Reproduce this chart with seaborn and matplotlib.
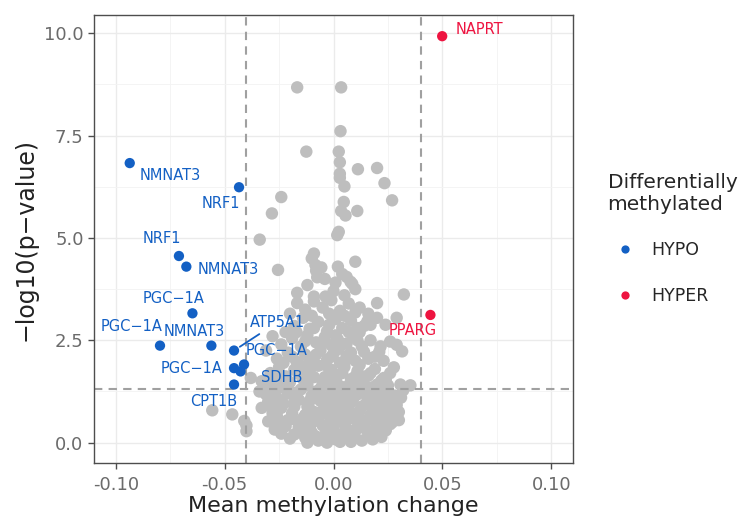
import numpy as np
import pandas as pd
import matplotlib.pyplot as plt
import seaborn as sns

# differentially methylated genes (labelled)
genes = ['NMNAT3', 'NRF1', 'NRF1', 'NMNAT3', 'PGC−1A', 'PGC−1A', 'NMNAT3', 'ATP5A1',
         'PGC−1A', 'PGC−1A', 'SDHB', 'CPT1B', 'NAPRT', 'PPARG']
gene_change = [-0.0936, -0.0434, -0.0710, -0.0676, -0.0648, -0.0797, -0.0561, -0.0457,
               -0.0457, -0.0411, -0.0427, -0.0457, 0.0499, 0.0445]
gene_logp = [6.83, 6.24, 4.56, 4.30, 3.16, 2.37, 2.37, 2.25,
             1.82, 1.91, 1.74, 1.42, 9.93, 3.12]
gene_status = ['HYPO'] * 12 + ['HYPER'] * 2

# not significant CpGs
ns_change = [
    -0.0167, 0.0035, 0.0032, -0.0125, 0.0024, 0.0029, 0.0112, 0.0200, 0.0029, 0.0029,
    0.0050, 0.0234, -0.0240, 0.0047, 0.0269, -0.0283, 0.0035, 0.0109, 0.0055, 0.0024,
    0.0017, -0.0339, -0.0090, 0.0100, -0.0083, -0.0056, -0.0255, 0.0040, -0.0075, 0.0009,
    0.0078, 0.0086, -0.0167, -0.0090, -0.0037, 0.0323, 0.0200, -0.0167, 0.0290, 0.0155,
    0.0110, 0.0239, 0.0260, 0.0216, 0.0290, 0.0315, 0.0162, 0.0277, 0.0160, 0.0231,
    0.0307, 0.0353, 0.0170, 0.0237, 0.0260, 0.0200, -0.0380, -0.0410, -0.0400, -0.0290,
    -0.0266, -0.0557, -0.0465, -0.0400,
    -0.010, -0.008, -0.004, 0.002, 0.006, 0.010, -0.012, 0.000, 0.005,
    -0.013, -0.009, -0.005, -0.001, 0.003, 0.007, 0.012, -0.020, 0.016,
    -0.018, -0.014, -0.011, -0.007, -0.003, 0.001, 0.004, 0.008, 0.012, 0.017, -0.022, 0.020,
    -0.024, -0.019, -0.015, -0.012, -0.008, -0.004, -0.001, 0.002, 0.006, 0.009, 0.013, 0.017, -0.028,
    -0.026, -0.021, -0.017, -0.013, -0.010, -0.006, -0.003, 0.000, 0.003, 0.006, 0.010, 0.014,
    0.019, 0.023, -0.031,
    -0.029, -0.025, -0.022, -0.018, -0.014, -0.011, -0.007, -0.004, -0.001, 0.002, 0.005,
    0.008, 0.011, 0.015, 0.019, 0.022, 0.026, -0.033,
    -0.034, -0.031, -0.027, -0.024, -0.020, -0.017, -0.013, -0.010, -0.006, -0.003, 0.000,
    0.003, 0.006, 0.009, 0.012, 0.015, 0.018, 0.021, 0.025, 0.028, 0.032,
    -0.033, -0.030, -0.026, -0.023, -0.019, -0.016, -0.012, -0.009, -0.006, -0.003, 0.000,
    0.003, 0.006, 0.009, 0.012, 0.015, 0.018, 0.022, 0.025, 0.029, 0.031,
    -0.030, -0.026, -0.023, -0.019, -0.016, -0.013, -0.010, -0.007, -0.004, -0.001, 0.002,
    0.005, 0.008, 0.011, 0.014, 0.017, 0.020, 0.023, 0.027,
    -0.024, -0.020, -0.016, -0.013, -0.010, -0.007, -0.004, -0.001, 0.001, 0.004, 0.007,
    0.010, 0.013, 0.016, 0.019, 0.022, -0.027, 0.024,
    -0.022, -0.018, -0.015, -0.011, -0.008, -0.005, -0.002, 0.000, 0.003, 0.006, 0.009,
    0.012, 0.015, 0.018, 0.021, -0.012, -0.003, 0.008,
    -0.028, -0.024, -0.021, -0.018, -0.014, -0.011, -0.008, -0.005, -0.002, 0.001, 0.004,
    0.007, 0.010, 0.013, 0.016, 0.019, 0.022, 0.026, 0.030,
    -0.031, -0.028, -0.025, -0.021, -0.018, -0.015, -0.011, -0.008, -0.004, -0.001, 0.002,
    0.005, 0.008, 0.011, 0.014, 0.017, 0.020, 0.024, 0.027,
    -0.028, -0.024, -0.021, -0.016, -0.012, -0.009, -0.005, -0.002, 0.001, 0.004, 0.007,
    0.010, 0.013, 0.017, 0.020, 0.024,
    -0.023, -0.019, -0.015, -0.011, -0.008, -0.004, -0.001, 0.002, 0.005, 0.008, 0.012,
    0.016, 0.021,
    -0.017, -0.013, -0.009, -0.005, -0.002, 0.001, 0.004, 0.007, 0.011, 0.014, -0.010,
    -0.002, 0.005, 0.010,
    0.026, 0.029, 0.022, 0.027, 0.019, 0.024, -0.029, -0.025, -0.030, 0.030,
]
ns_logp = [
    8.68, 8.68, 7.61, 7.11, 7.11, 6.85, 6.68, 6.71, 6.57, 6.47,
    6.26, 6.34, 6.00, 5.88, 5.92, 5.60, 5.66, 5.66, 5.55, 5.15,
    5.07, 4.96, 4.62, 4.42, 4.34, 4.28, 4.22, 4.12, 4.04, 3.91,
    3.93, 3.88, 3.66, 3.57, 3.57, 3.62, 3.41, 3.41, 3.05, 2.96,
    2.80, 2.88, 2.47, 2.35, 2.39, 2.23, 2.07, 1.84, 1.64, 1.58,
    1.42, 1.40, 1.34, 1.03, 0.89, 0.57, 1.58, 0.53, 0.28, 1.09,
    0.77, 0.79, 0.69, 0.42,
    4.50, 4.20, 4.00, 4.30, 4.05, 3.75, 3.85, 3.70, 3.60,
    3.25, 3.45, 3.30, 3.48, 3.22, 3.40, 3.30, 3.15, 3.15,
    2.85, 3.05, 2.78, 2.95, 2.72, 3.02, 2.80, 2.98, 2.70, 2.88, 2.70, 3.05,
    2.40, 2.55, 2.35, 2.62, 2.45, 2.58, 2.38, 2.52, 2.42, 2.60, 2.35, 2.50, 2.60,
    2.05, 2.20, 1.98, 2.15, 1.92, 2.25, 2.02, 2.18, 1.95, 2.12, 2.00, 2.22,
    2.10, 2.00, 2.25,
    1.70, 1.85, 1.62, 1.78, 1.55, 1.72, 1.88, 1.60, 1.78, 1.65, 1.85,
    1.55, 1.75, 1.62, 1.80, 1.52, 1.70, 1.50,
    1.25, 1.42, 1.18, 1.35, 1.48, 1.22, 1.40, 1.15, 1.32, 1.45, 1.20,
    1.38, 1.12, 1.30, 1.45, 1.18, 1.35, 1.22, 1.40, 1.15, 1.28,
    0.85, 1.00, 0.78, 0.95, 0.72, 1.05, 0.88, 0.75, 1.02, 0.82, 0.95,
    0.74, 0.90, 1.06, 0.78, 0.96, 0.84, 1.00, 0.75, 0.92, 1.10,
    0.52, 0.65, 0.42, 0.58, 0.38, 0.68, 0.48, 0.62, 0.40, 0.55, 0.66,
    0.45, 0.60, 0.38, 0.54, 0.68, 0.44, 0.60, 0.50,
    0.22, 0.10, 0.28, 0.12, 0.25, 0.05, 0.18, 0.30, 0.08, 0.22, 0.12,
    0.28, 0.05, 0.18, 0.30, 0.14, 0.32, 0.30,
    0.40, 0.20, 0.45, 0.35, 0.15, 0.42, 0.10, 0.40, 0.02, 0.35, 0.15,
    0.42, 0.32, 0.08, 0.42, 0.00, 0.00, 0.02,
    0.72, 0.85, 0.55, 0.88, 0.60, 0.82, 0.55, 0.78, 0.65, 0.85, 0.55,
    0.78, 0.62, 0.88, 0.55, 0.72, 0.82, 0.64, 0.75,
    1.18, 1.30, 1.05, 1.20, 0.98, 1.30, 1.02, 1.25, 1.10, 1.30, 1.05,
    1.25, 0.98, 1.18, 1.32, 1.05, 1.15, 1.25, 1.02,
    1.55, 1.62, 1.38, 1.68, 1.42, 1.60, 1.45, 1.62, 1.50, 1.70, 1.40,
    1.62, 1.48, 1.70, 1.42, 1.55,
    1.95, 2.10, 1.88, 2.05, 2.15, 1.90, 2.10, 2.28, 1.98, 2.20, 1.90,
    2.05, 2.22,
    2.70, 2.48, 2.80, 2.45, 2.88, 2.62, 2.40, 2.70, 2.50, 2.85, 3.10,
    3.15, 3.10, 3.18,
    0.45, 0.62, 0.30, 0.95, 0.60, 1.12, 0.92, 0.50, 1.35, 0.55,
]

status_levels = ['HYPO', 'HYPER']
status_colors = ['#1360C4', '#EE1440']

# label offsets in pixels (layout only)
label_offsets = [(41, -12), (-18, -16), (-17, 17), (42, -3), (-19, 15), (-28, 19), (-17, 14),
                 (43, 28), (-42, 0), (33, 14), (41, -6), (-20, -17), (37, 7), (-18, -16)]

sig = pd.DataFrame({'gene': genes, 'change': gene_change, 'logp': gene_logp, 'status': gene_status})
ns = pd.DataFrame({'change': ns_change, 'logp': ns_logp})

sns.set_theme(style='white')
plt.rcParams['font.family'] = ['DejaVu Sans']

fig, ax = plt.subplots(figsize=(7.54, 5.23), dpi=100)
fig.subplots_adjust(left=0.1247, right=0.760, top=0.9713, bottom=0.1147)

ax.set_xlim(-0.11, 0.11)
ax.set_ylim(-0.4975, 10.4475)
ax.set_xticks([-0.10, -0.05, 0.00, 0.05, 0.10])
ax.set_yticks([0.0, 2.5, 5.0, 7.5, 10.0])
ax.set_xticks([-0.075, -0.025, 0.025, 0.075], minor=True)
ax.set_yticks([1.25, 3.75, 6.25, 8.75], minor=True)
ax.xaxis.set_major_formatter(plt.FormatStrFormatter('%.2f'))
ax.yaxis.set_major_formatter(plt.FormatStrFormatter('%.1f'))
ax.grid(which='major', color='#EBEBEB', linewidth=1.0)
ax.grid(which='minor', color='#F3F3F3', linewidth=0.6)
ax.set_axisbelow(True)

sns.scatterplot(data=ns, x='change', y='logp', color='#BEBEBE', s=80, edgecolor='none', ax=ax, zorder=2)
sns.scatterplot(data=sig, x='change', y='logp', hue='status', hue_order=status_levels,
                palette=status_colors, s=55, edgecolor='none', ax=ax, zorder=3)

dash = (0, (4, 3))
ax.axvline(-0.04, color='#A0A0A0', linestyle=dash, linewidth=1.5, zorder=2.5)
ax.axvline(0.04, color='#A0A0A0', linestyle=dash, linewidth=1.5, zorder=2.5)
ax.axhline(-np.log10(0.05), color='#A0A0A0', linestyle=dash, linewidth=1.5, zorder=2.5)

color_of = dict(zip(status_levels, status_colors))
for row, (dx, dy) in zip(sig.itertuples(), label_offsets):
    c = color_of[row.status]
    arrow = dict(arrowstyle='-', color=c, lw=1.3, shrinkA=1, shrinkB=5) if row.gene == 'ATP5A1' else None
    ax.annotate(row.gene, xy=(row.change, row.logp), xytext=(dx, dy), textcoords='offset pixels',
                ha='center', va='center', fontsize=10.5, color=c, arrowprops=arrow, zorder=4)

for s in ax.spines.values():
    s.set_color('#4D4D4D')
    s.set_linewidth(1.0)
ax.tick_params(axis='both', which='major', length=4, width=1.0, color='#4D4D4D',
               labelsize=13, labelcolor='#6B6B6B', bottom=True, left=True)
ax.tick_params(axis='x', which='major', pad=5)
ax.tick_params(which='minor', length=0)

ax.set_xlabel('Mean methylation change', fontsize=16, color='#222222', labelpad=2)
ax.set_ylabel('−log10(p−value)', fontsize=17, color='#222222', labelpad=5)

handles, labels = ax.get_legend_handles_labels()
ax.legend(handles, labels, title='Differentially\nmethylated', loc='upper left',
          bbox_to_anchor=(0.785, 0.70), bbox_transform=fig.transFigure, frameon=False,
          fontsize=12.5, title_fontsize=14.5, alignment='left', labelspacing=1.6,
          handletextpad=0.5, markerscale=0.8)

fig.savefig('out.png', dpi=100)
